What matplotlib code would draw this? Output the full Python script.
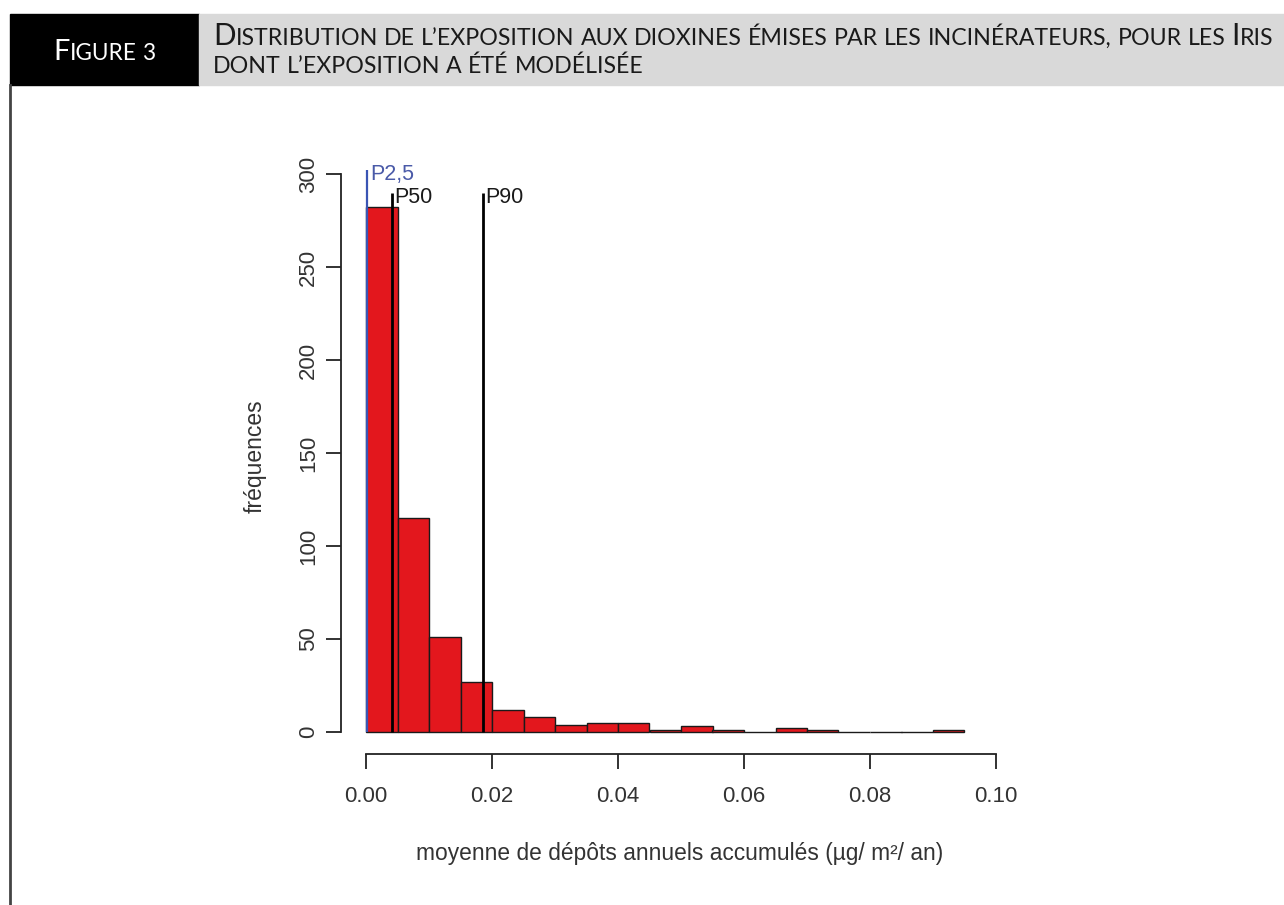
import matplotlib
matplotlib.use("Agg")
import numpy as np
import matplotlib.pyplot as plt
from matplotlib.patches import Rectangle

# histogram data (bins of 0.005)
bin_edges = [0.000, 0.005, 0.010, 0.015, 0.020, 0.025, 0.030, 0.035, 0.040, 0.045,
             0.050, 0.055, 0.060, 0.065, 0.070, 0.075, 0.080, 0.085, 0.090, 0.095]
counts = [282, 115, 51, 27, 12, 8, 4, 5, 5, 1, 3, 1, 0, 2, 1, 0, 0, 0, 1]

# percentile markers
pct_labels = ["P2,5", "P50", "P90"]
pct_values = [0.0002, 0.0041, 0.0185]
pct_tops = [302, 290, 290]
pct_colors = ["#3a55b4", "black", "black"]

x_ticks = [0.00, 0.02, 0.04, 0.06, 0.08, 0.10]
x_ticklabels = ["0.00", "0.02", "0.04", "0.06", "0.08", "0.10"]
y_ticks = [0, 50, 100, 150, 200, 250, 300]

header_tag = "Figure 3"
title_lines = ["Distribution de l\u2019exposition aux dioxines \u00e9mises par les incin\u00e9rateurs, pour les Iris",
               "dont l\u2019exposition a \u00e9t\u00e9 mod\u00e9lis\u00e9e"]
xlabel = "moyenne de d\u00e9p\u00f4ts annuels accumul\u00e9s (\u00b5g/ m\u00b2/ an)"
ylabel = "fr\u00e9quences"

W, H = 1284, 905
fig = plt.figure(figsize=(W / 100, H / 100), dpi=100)
renderer = fig.canvas.get_renderer()


def fx(x):
    return x / W


def fy(y):
    return 1 - y / H


# header band
hdr_top, hdr_bot = 14, 85
fig.patches.append(Rectangle((fx(10), fy(hdr_bot)), fx(199 - 10), (hdr_bot - hdr_top) / H,
                             transform=fig.transFigure, color="black", zorder=0))
fig.patches.append(Rectangle((fx(199), fy(hdr_bot)), fx(W - 199), (hdr_bot - hdr_top) / H,
                             transform=fig.transFigure, color="#d9d9d9", zorder=0))
fig.add_artist(plt.Line2D([fx(10), fx(10)], [fy(hdr_bot), 0], transform=fig.transFigure,
                          color="#444444", lw=2))

HFONT = "Lato"


def smallcaps(text, x0, y0, size, color, ratio=0.78):
    # split into runs of big caps / small caps / spaces
    runs = []
    for ch in text:
        kind = "sp" if ch == " " else ("big" if ch.isupper() else "small")
        if runs and runs[-1][1] == kind and kind != "sp":
            runs[-1][0] += ch
        else:
            runs.append([ch, kind])
    x = x0
    arts = []
    for s, kind in runs:
        if kind == "sp":
            x += size * ratio * 0.26 * 100 / 72
            continue
        fs = size if kind == "big" else size * ratio
        t = fig.text(fx(x), fy(y0), s.upper(), fontsize=fs, family=HFONT,
                     ha="left", va="baseline", color=color)
        x += t.get_window_extent(renderer).width
        arts.append(t)
    return arts, x - x0


def fitted_smallcaps(text, x0, y0, width, color, centered=False):
    arts, w = smallcaps(text, x0, y0, 20, color)
    for a in arts:
        a.remove()
    size = 20 * width / w
    if centered:
        x0 = x0 - width / 2
    smallcaps(text, x0, y0, size, color)
    return size


fitted_smallcaps(header_tag, 104, 60, 102, "white", centered=True)
tsize = fitted_smallcaps(title_lines[0], 213, 45, 1059, "#1a1a1a")
smallcaps(title_lines[1], 213, 73, tsize, "#1a1a1a")

# plot area (R style: 4% padding around 0..0.1 and 0..300)
ax = fig.add_axes([340.8 / W, (H - 754.3) / H, 680.4 / W, 602.6 / H])
ax.set_xlim(-0.004, 0.104)
ax.set_ylim(-12, 312)

edges = np.array(bin_edges)
centers = (edges[:-1] + edges[1:]) / 2
ax.hist(centers, bins=edges, weights=counts, color="#e3171d", edgecolor="#1a1a1a", linewidth=1.0)

for lab, v, top, c in zip(pct_labels, pct_values, pct_tops, pct_colors):
    ax.vlines(v, 0, top, color=c, lw=2.0 if c == "black" else 1.6, zorder=3)
    ax.text(v + 0.0004, top - 2.5, lab, color="#4a5aa8" if c != "black" else "#1a1a1a",
            fontsize=15.5, family="Liberation Sans", ha="left", va="center")

for s in ["top", "right"]:
    ax.spines[s].set_visible(False)
ax.spines["left"].set_bounds(0, 300)
ax.spines["bottom"].set_bounds(0, 0.1)
for s in ["left", "bottom"]:
    ax.spines[s].set_color("#222222")
    ax.spines[s].set_linewidth(1.3)

ax.set_xticks(x_ticks)
ax.set_xticklabels(x_ticklabels)
ax.set_yticks(y_ticks)
ax.tick_params(axis="both", length=10.5, width=1.3, color="#222222", labelsize=16,
               labelcolor="#333333")
ax.tick_params(axis="x", pad=12)
ax.tick_params(axis="y", pad=5, labelrotation=90)
for t in ax.get_yticklabels():
    t.set_va("center")
for t in ax.get_xticklabels() + ax.get_yticklabels():
    t.set_family("Liberation Sans")

fig.text(fx(680), fy(853), xlabel, fontsize=16.4, family="Liberation Sans",
         ha="center", va="center", color="#333333")
fig.text(fx(255), fy(456), ylabel, fontsize=16.5, family="Liberation Sans",
         ha="center", va="center", rotation=90, color="#333333")

fig.savefig("out.png", dpi=100)
